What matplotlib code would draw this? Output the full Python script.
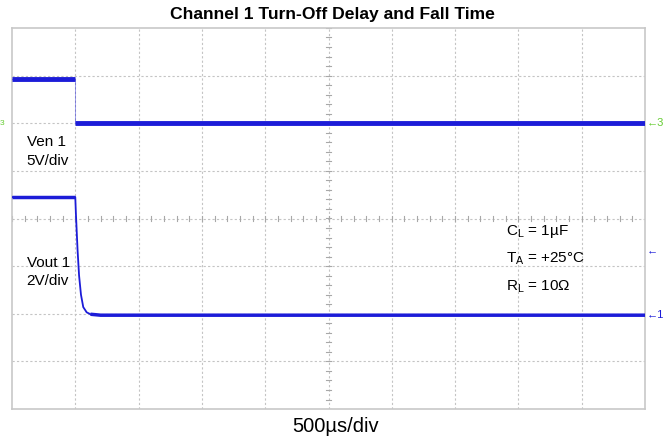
import matplotlib.pyplot as plt
import numpy as np

plt.rcParams['font.family'] = ['Liberation Sans', 'DejaVu Sans']

# time in divisions (500us/div), screen spans -5..5
ven_t = [-5.0, -4.0, -4.0, 5.0]
ven_v = [2.92, 2.92, 2.0, 2.0]            # divisions, 5V/div

vout_t = [-5.0, -4.0, -3.99, -3.964, -3.94, -3.91, -3.874, -3.82, -3.76, -3.6, 5.0]
vout_v = [0.45, 0.45, 0.10, -0.66, -1.20, -1.60, -1.86, -1.97, -2.01, -2.03, -2.03]  # 2V/div

trace_col = '#1c1cd8'
grid_col = '#c4c4c4'


def scope_grid(ax):
  for x in range(-4, 5):
    ax.axvline(x, color=grid_col, lw=0.8, ls=(0, (2, 2)), zorder=1)
  for y in range(-3, 4):
    ax.axhline(y, color=grid_col, lw=0.8, ls=(0, (2, 2)), zorder=1)
  # minor ticks on the centre lines
  for x in np.arange(-5, 5.01, 0.2):
    ax.plot([x, x], [-0.05, 0.05], color='#a8a8a8', lw=0.8, zorder=1)
  for y in np.arange(-4, 4.01, 0.2):
    ax.plot([-0.04, 0.04], [y, y], color='#a8a8a8', lw=0.8, zorder=1)


def main():
  fig = plt.figure(figsize=(6.65, 4.37), dpi=100)
  ax = fig.add_axes([0.018, 0.064, 0.952, 0.872])
  ax.set_xlim(-5, 5)
  ax.set_ylim(-4, 4)
  ax.set_xticks([])
  ax.set_yticks([])
  for s in ax.spines.values():
    s.set_color('#c8c8c8')
    s.set_linewidth(1.2)
  scope_grid(ax)

  # Ven: thick flat levels, faint edge
  ax.plot(ven_t, ven_v, color=trace_col, lw=0.6, alpha=0.5, zorder=3)
  ax.plot(ven_t[:2], ven_v[:2], color=trace_col, lw=3.5, solid_capstyle='butt', zorder=3)
  ax.plot(ven_t[2:], ven_v[2:], color=trace_col, lw=3.5, solid_capstyle='butt', zorder=3)
  # Vout: thin fall, thicker settled parts
  ax.plot(vout_t, vout_v, color=trace_col, lw=1.3, zorder=3)
  ax.plot(vout_t[:2], vout_v[:2], color=trace_col, lw=2.5, solid_capstyle='butt', zorder=3)
  ax.plot(vout_t[-3:], vout_v[-3:], color=trace_col, lw=2.5, solid_capstyle='butt', zorder=3)

  fig.text(0.5, 0.966, 'Channel 1 Turn-Off Delay and Fall Time', ha='center', va='center',
           fontsize=12.6, fontweight='bold')
  fig.text(0.504, 0.023, '500\u00b5s/div', ha='center', va='center', fontsize=14.5)

  ax.text(-4.77, 1.6, 'Ven 1', fontsize=11, va='center')
  ax.text(-4.77, 1.2, '5V/div', fontsize=11, va='center')
  ax.text(-4.77, -0.93, 'Vout 1', fontsize=11, va='center')
  ax.text(-4.77, -1.31, '2V/div', fontsize=11, va='center')

  ax.text(2.8, -0.27, 'C$_\\mathregular{L}$ = 1\u00b5F', fontsize=11, va='center')
  ax.text(2.8, -0.84, 'T$_\\mathregular{A}$ = +25\u00b0C', fontsize=11, va='center')
  ax.text(2.8, -1.44, 'R$_\\mathregular{L}$ = 10\u03a9', fontsize=11, va='center')

  # channel markers at the edges
  ax.text(5.03, 2.0, '\u21903', color='#66cc33', fontsize=8, va='center', clip_on=False)
  ax.text(5.03, -0.67, '\u2190', color=trace_col, fontsize=8, va='center', clip_on=False)
  ax.text(5.03, -2.03, '\u21901', color=trace_col, fontsize=8, va='center', clip_on=False)
  ax.text(-5.2, 2.0, '3', color='#66cc33', fontsize=6, va='center', clip_on=False)

  fig.savefig('out.png', dpi=100)


if __name__ == "__main__":
  main()
